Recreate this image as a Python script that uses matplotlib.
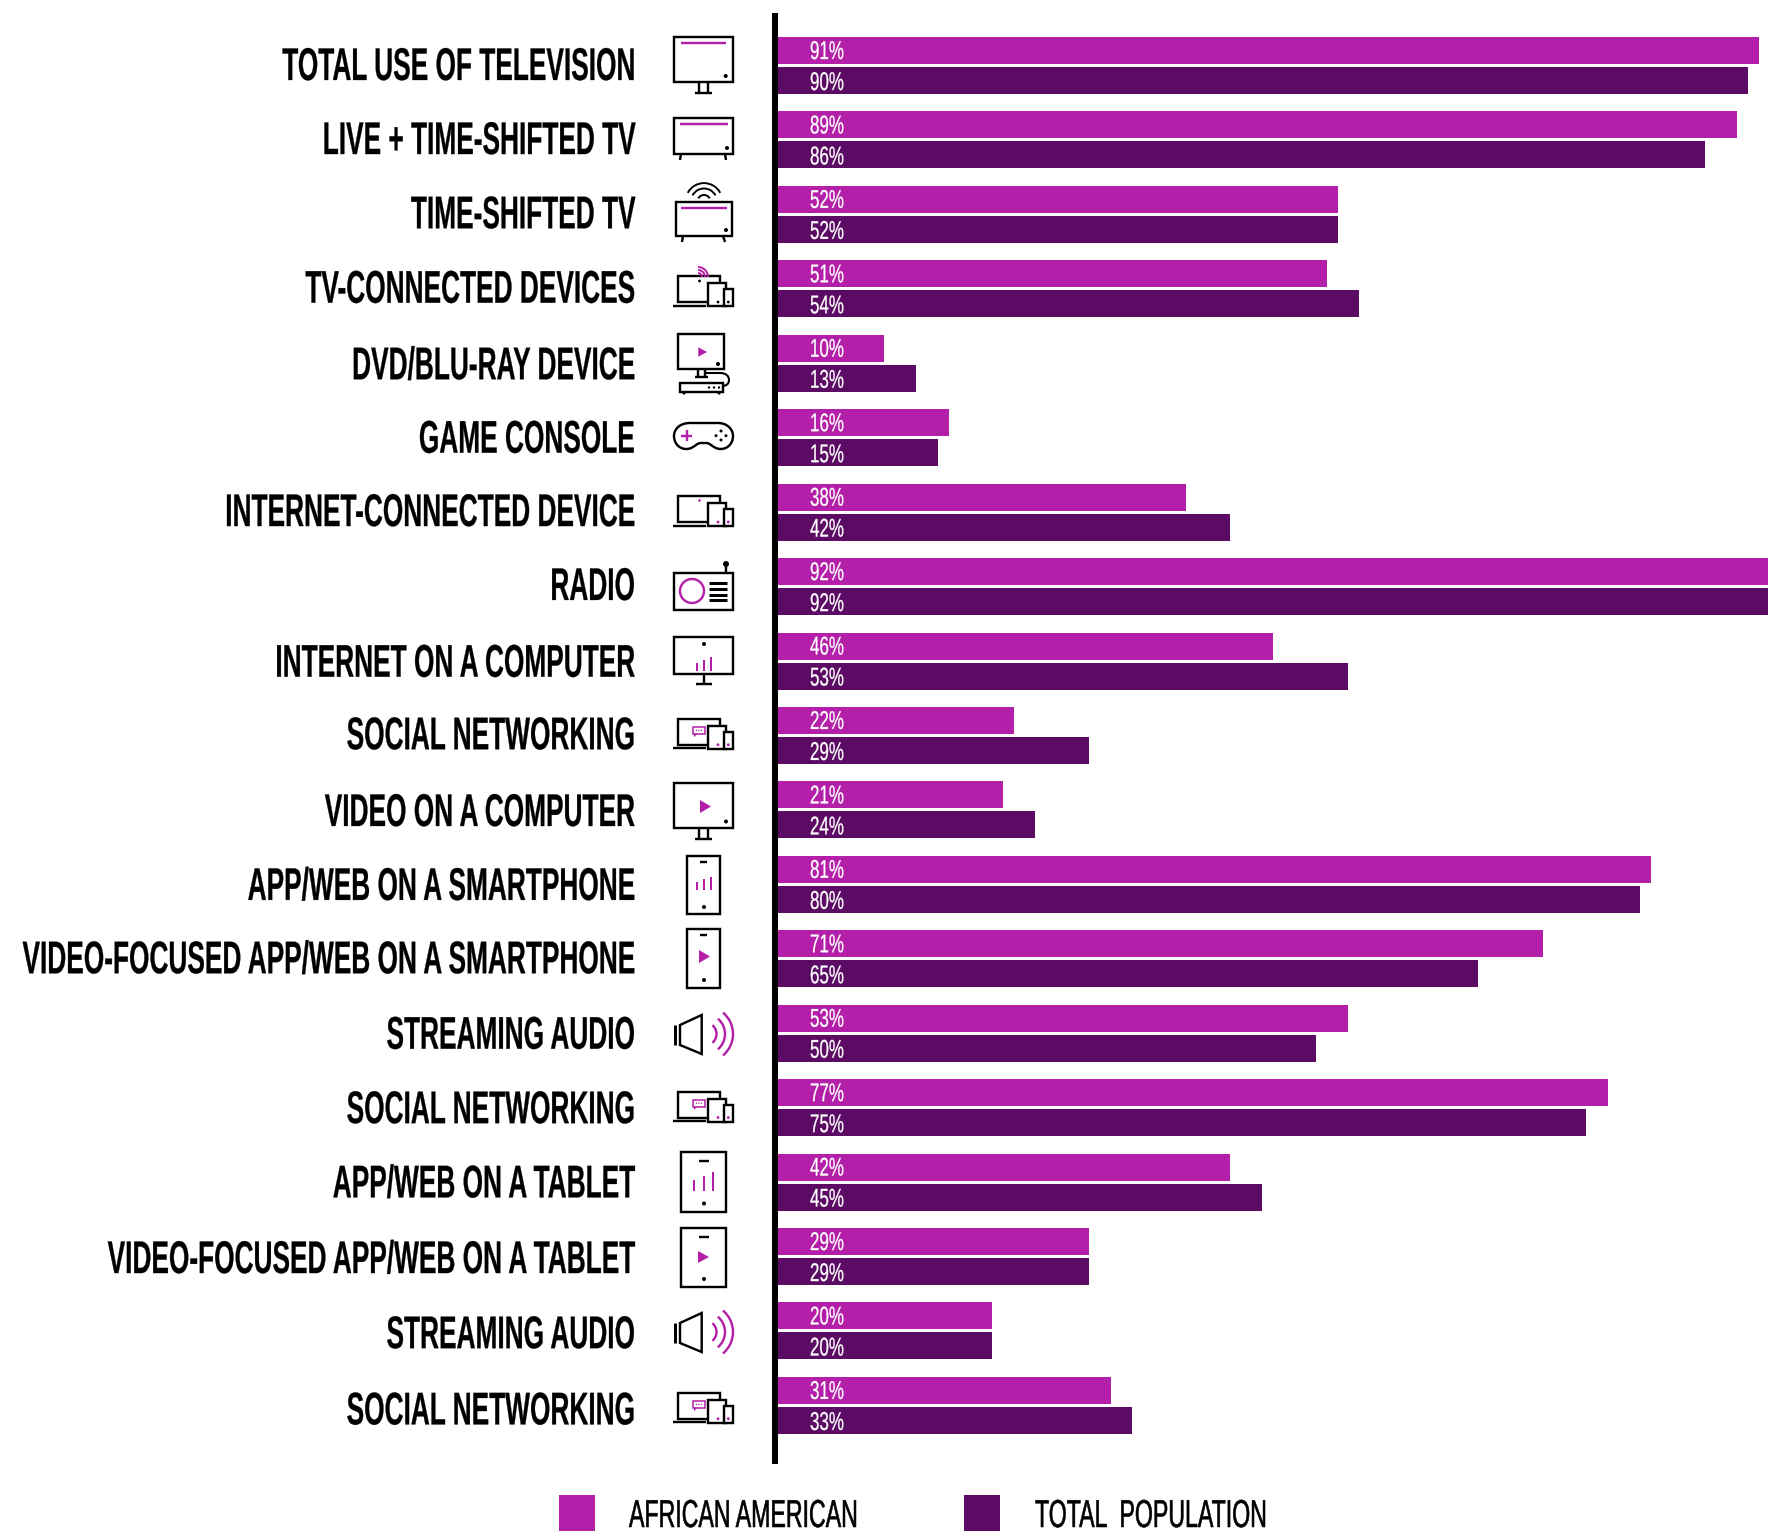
import matplotlib
matplotlib.use("Agg")
import matplotlib.pyplot as plt
from matplotlib.patches import Arc, Circle, PathPatch, Polygon, Rectangle
from matplotlib.patheffects import AbstractPathEffect
from matplotlib.path import Path
from matplotlib.text import Text
from matplotlib.transforms import Affine2D, Bbox

W, H = 1768, 1531
PINK = "#B31FA8"
PURPLE = "#5B0B63"
NARROW = ["Liberation Sans Narrow", "Liberation Sans", "DejaVu Sans"]

categories = [
    "TOTAL USE OF TELEVISION", "LIVE + TIME-SHIFTED TV", "TIME-SHIFTED TV",
    "TV-CONNECTED DEVICES", "DVD/BLU-RAY DEVICE", "GAME CONSOLE",
    "INTERNET-CONNECTED DEVICE", "RADIO", "INTERNET ON A COMPUTER",
    "SOCIAL NETWORKING", "VIDEO ON A COMPUTER", "APP/WEB ON A SMARTPHONE",
    "VIDEO-FOCUSED APP/WEB ON A SMARTPHONE", "STREAMING AUDIO",
    "SOCIAL NETWORKING", "APP/WEB ON A TABLET",
    "VIDEO-FOCUSED APP/WEB ON A TABLET", "STREAMING AUDIO",
    "SOCIAL NETWORKING",
]
african_american = [91, 89, 52, 51, 10, 16, 38, 92, 46, 22, 21, 81, 71, 53, 77, 42, 29, 20, 31]
total_population = [90, 86, 52, 54, 13, 15, 42, 92, 53, 29, 24, 80, 65, 50, 75, 45, 29, 20, 33]
legend_labels = ["AFRICAN AMERICAN", "TOTAL  POPULATION"]

# small per-row baseline nudges for the row labels, px
label_nudge = [0, -0.4, -0.6, -0.6, 1.5, 0.5, -0.6, -1.1, 1.2, -0.7, 1.6, 1.1, 0, 1, 1, 0.8, 2, 2.7, 4.5]

ROW0 = 65.5      # centre of the first row, px
PITCH = 74.44    # row spacing, px
PX_PER_PCT = 10.8
ORIGIN_PX = 776


class Stretch(AbstractPathEffect):
    """Stretch glyphs upward from the baseline and thicken them a little; no condensed gothic is installed."""

    def __init__(self, y0, sy, grow=0.0):
        super().__init__()
        self.y0 = y0
        self.sy = sy
        self.grow = grow

    def draw_path(self, renderer, gc, tpath, affine, rgbFace=None):
        t = affine + Affine2D().translate(0, -self.y0).scale(1, self.sy).translate(0, self.y0)
        gc0 = renderer.new_gc()
        gc0.copy_properties(gc)
        gc0.set_linewidth(self.grow)
        gc0.set_foreground(rgbFace)
        renderer.draw_path(gc0, tpath, t, rgbFace)
        gc0.restore()


class TallText(Text):
    """Text drawn taller than its font size, which reads as a condensed face."""

    def __init__(self, x, y, s, sy, grow=0.0, **kw):
        super().__init__(x, y, s, **kw)
        self.sy = sy
        self.grow = grow

    def anchor_px(self):
        return self.get_transform().transform(self.get_unitless_position())[1]

    def draw(self, renderer):
        self.set_path_effects([Stretch(self.anchor_px(), self.sy, self.grow)])
        super().draw(renderer)

    def get_window_extent(self, renderer=None, dpi=None):
        bb = super().get_window_extent(renderer, dpi)
        y0 = self.anchor_px()
        return Bbox.from_extents(bb.x0, y0 + (bb.y0 - y0) * self.sy, bb.x1, y0 + (bb.y1 - y0) * self.sy)


def tall_text(ax, x, y, s, size, sx, grow=0.0, **kw):
    # size is the drawn cap size; sx is how far the width is narrowed relative to it
    return ax.add_artist(TallText(x, y, s, 1 / sx, grow, transform=ax.transData, family=NARROW,
                                  fontsize=size * sx, ha=kw.pop("ha", "left"), va="baseline", **kw))


fig = plt.figure(figsize=(W / 100, H / 100), dpi=100, facecolor="white")

# bar panel, y in row units, x in percent
top_px, bot_px = 16, 1461
ax = fig.add_axes([ORIGIN_PX / W, 1 - bot_px / H, (W - ORIGIN_PX) / W, (bot_px - top_px) / H])
ax.set_xlim(0, (W - ORIGIN_PX) / PX_PER_PCT)
ax.set_ylim((bot_px - ROW0) / PITCH, (top_px - ROW0) / PITCH)
for s in ["top", "right", "bottom"]:
    ax.spines[s].set_visible(False)
ax.spines["left"].set_position(("outward", 1 * 0.72))
ax.spines["left"].set_linewidth(6 * 0.72)
ax.set_xticks([])
ax.set_yticks([])
ax.patch.set_alpha(0)

rows = list(range(len(categories)))
bar_h = 27 / PITCH
off = 15 / PITCH
ax.barh([r - off for r in rows], african_american, height=bar_h, color=PINK)
ax.barh([r + off for r in rows], total_population, height=bar_h, color=PURPLE)

pct_x = (810 - ORIGIN_PX) / PX_PER_PCT
for r in rows:
    tall_text(ax, pct_x, r - off + 8.5 / PITCH, f"{african_american[r]}%", 18.5, 0.66, 0.2, color="white")
    tall_text(ax, pct_x, r + off + 9.5 / PITCH, f"{total_population[r]}%", 18.5, 0.66, 0.2, color="white")

# overlay in pixel coordinates for the row labels, icons and legend
ov = fig.add_axes([0, 0, 1, 1])
ov.set_xlim(0, W)
ov.set_ylim(H, 0)
ov.axis("off")
ov.patch.set_alpha(0)

for r, name in enumerate(categories):
    tall_text(ov, 635, ROW0 + r * PITCH + 14.5 + label_nudge[r], name, 33, 0.573, 0.2, color="black",
              fontweight="bold", ha="right")

LW = 2.4 * 0.72


def box(x0, y0, x1, y1, color="black", lw=LW, fill="none"):
    ov.add_patch(Rectangle((x0, y0), x1 - x0, y1 - y0, fc=fill, ec=color, lw=lw, zorder=3))


def line(xs, ys, color="black", lw=LW):
    ov.plot(xs, ys, color=color, lw=lw, solid_capstyle="butt", zorder=4)


def dot(x, y, r=2.0, color="black"):
    ov.add_patch(Circle((x, y), r, fc=color, ec="none", zorder=5))


def play(x, y0, y1, tip):
    ov.add_patch(Polygon([(x, y0), (x, y1), (tip, (y0 + y1) / 2)], fc=PINK, ec="none", zorder=5))


def chart(xs, bottom, tops, lw=LW):
    for x, t in zip(xs, tops):
        line([x, x], [bottom, t], color=PINK, lw=lw)


def stand(y, legs=(699, 708), base=(695, 712), drop=11):
    line([legs[0], legs[0]], [y, y + drop])
    line([legs[1], legs[1]], [y, y + drop])
    line(base, [y + drop, y + drop])


def devices(y, accent="black"):
    box(678, y, 720, y + 26)
    line([673, 706], [y + 29.5, y + 29.5])
    box(708, y + 7, 726, y + 30, fill="white")
    box(723.5, y + 13, 733, y + 30, fill="white")
    dot(718, y + 26, 1.4, accent)
    dot(728.3, y + 26, 1.4, accent)


def bubble(y):
    box(693, y + 8, 705, y + 15.5, color=PINK, lw=1.1)
    ov.add_patch(Polygon([(694, y + 15), (694, y + 18.5), (697.5, y + 15)], fc=PINK, ec="none", zorder=5))
    for x in (696.5, 699, 701.5):
        dot(x, y + 11.7, 0.7, PINK)


def speaker(c):
    line([674.5, 674.5], [c - 8, c + 12], lw=3 * 0.72)
    ov.add_patch(Polygon([(680, c - 8), (701.7, c - 18), (701.7, c + 21), (680, c + 12)],
                         fc="none", ec="black", lw=LW, zorder=3))
    for rad in (11.5, 20, 28):
        ov.add_patch(Arc((705, c + 1), 2 * rad, 2 * rad, theta1=-50, theta2=50, ec=PINK, lw=LW, zorder=4))


# television icons
box(674, 37, 733, 82)
line([681, 726], [43, 43], color=PINK)
dot(725.7, 76)
stand(82)

box(674, 118, 733, 154)
line([680, 728], [124, 124], color=PINK)
dot(727, 148)
line([681, 680], [154, 160])
line([725, 726], [154, 160])

box(676, 202, 732, 236)
line([681, 727], [208, 208], color=PINK)
dot(726, 230)
line([683, 682], [236, 242])
line([723, 725], [236, 242])
for rad in (18.4, 13, 6.5):
    ov.add_patch(Arc((704, 201.5), 2 * rad, 2 * rad, theta1=208, theta2=332, ec="black", lw=LW * 0.8, zorder=4))

# connected devices with signal arcs
devices(276)
dot(699.5, 281, 1.4)
for rad in (4, 7, 10):
    ov.add_patch(Arc((698, 277), 2 * rad, 2 * rad, theta1=270, theta2=360, ec=PINK, lw=1.4, zorder=4))

# dvd player
box(678, 333.5, 724, 369)
play(698.3, 347.3, 356.7, 707)
dot(718, 364)
stand(369, legs=(698, 705), base=(695, 708), drop=8)
box(680, 383, 723, 392)
for x in (709, 714, 719):
    dot(x, 387.5, 1.2)
dot(684, 393, 1.6)
dot(719, 393, 1.6)
cable_pts = [(706, 373), (720, 373), (726, 373), (729, 376), (729, 380), (729, 384), (726, 386), (722, 386)]
cable_codes = [Path.MOVETO, Path.LINETO] + [Path.CURVE4] * 6
ov.add_patch(PathPatch(Path(cable_pts, cable_codes), fc="none", ec="black", lw=1.5, zorder=3))

# game pad
pad_pts = [(690, 423), (718, 423), (727, 423), (733, 429), (733, 436), (733, 444), (727, 449), (721, 449),
           (716, 449), (714, 447), (711, 445), (709, 443.5), (708, 443), (706, 443), (701, 443),
           (699, 443), (698, 443.5), (696, 445), (693, 447), (691, 449), (686, 449),
           (680, 449), (674, 444), (674, 436), (674, 429), (680, 423), (690, 423)]
pad_codes = [Path.MOVETO, Path.LINETO] + [Path.CURVE4] * 12 + [Path.LINETO] + [Path.CURVE4] * 12
ov.add_patch(PathPatch(Path(pad_pts, pad_codes), fc="none", ec="black", lw=LW, zorder=3))
line([681, 692], [435.7, 435.7], color=PINK)
line([686.5, 686.5], [430, 441.4], color=PINK)
for x, y in ((721, 431), (716, 435.7), (726, 435.7), (721, 440)):
    dot(x, y, 1.5)

devices(496, accent=PINK)
dot(699.5, 500.5, 1.3, PINK)

# radio
box(674, 572.5, 733, 609.5)
line([726, 726], [564, 572.5])
dot(726, 564, 3)
ov.add_patch(Circle((692, 591), 12, fc="none", ec=PINK, lw=LW, zorder=4))
for y in (582.7, 588.5, 594.5, 600.3):
    line([709, 727], [y, y], lw=3 * 0.72)

# monitor with chart
box(674, 637, 733, 674)
dot(704, 644)
line([704, 704], [674, 683])
line([696, 712], [683.5, 683.5])
chart((697, 704, 711), 670.7, (662.7, 660, 656.7), lw=2 * 0.72)

devices(718.7, accent=PINK)
bubble(718.7)

# monitor with play button
box(674, 782.7, 733, 828)
stand(828)
dot(726, 821.5)
play(700, 800, 813, 711)

# phones
box(687, 855.7, 720, 914)
line([700, 707], [862, 862])
chart((697, 704, 711), 890, (882, 879, 877), lw=2 * 0.72)
dot(704, 907)

box(687, 929, 720, 988)
line([700, 707], [935, 935])
play(699, 950, 963, 710)
dot(704, 980)

speaker(1033)

devices(1091.5, accent=PINK)
bubble(1091.5)

# tablets
box(681, 1152.3, 726, 1211.7)
line([699, 709], [1161, 1161])
chart((694, 704, 713), 1190.7, (1180, 1176, 1172), lw=2 * 0.72)
dot(704, 1203.5)

box(681, 1227.7, 726, 1286.7)
line([699, 709], [1237, 1237])
play(698, 1251, 1263, 709)
dot(704, 1279)

speaker(1331)

devices(1392.7, accent=PINK)
bubble(1392.7)

# legend
for x0, col, name, tx in ((559, PINK, legend_labels[0], 629), (964, PURPLE, legend_labels[1], 1035)):
    ov.add_patch(Rectangle((x0, 1495), 36, 36, fc=col, ec="none"))
    tall_text(ov, tx, 1527, name, 28, 0.595, 0.4, color="black")

fig.savefig("out.png", dpi=100)
